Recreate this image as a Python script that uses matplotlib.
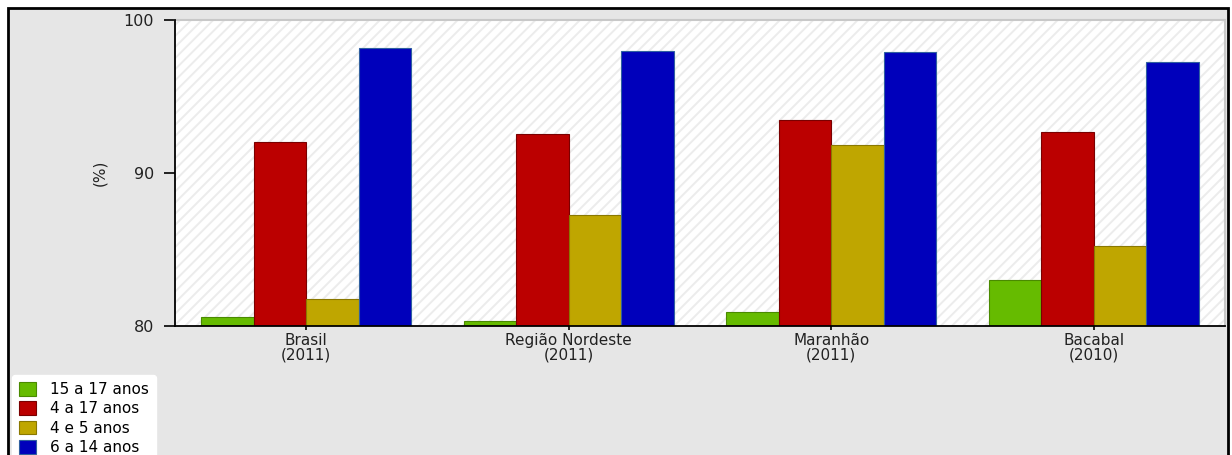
"""
    Bar chart of school attendance rates by age group
    for Brasil, Região Nordeste, Maranhão and Bacabal.
"""

import numpy as np
import matplotlib.pyplot as plt
import matplotlib.patches as patches

# Data.
places = ['Brasil\n(2011)', 'Região Nordeste\n(2011)', 'Maranhão\n(2011)', 'Bacabal\n(2010)']
series = ['15 a 17 anos', '4 a 17 anos', '4 e 5 anos', '6 a 14 anos']
rate_15_17 = [80.6, 80.35, 80.9, 83.0]
rate_4_17 = [92.0, 92.55, 93.45, 92.65]
rate_4_5 = [81.75, 87.25, 91.85, 85.25]
rate_6_14 = [98.2, 98.0, 97.9, 97.25]
colors = ['#66bb00', '#bb0000', '#bfa600', '#0000bb']
edges = ['#4a8a00', '#7a0000', '#8a7800', '#3060a0']

fig = plt.figure(figsize=(12.32, 4.55), dpi=100)
fig.patch.set_facecolor('white')

# Gray panel with black frame behind everything.
W, H = 1232, 455
panel = patches.Rectangle((8 / W, -0.05), 1220 / W, 1.05 - 8 / H,
                          transform=fig.transFigure, facecolor='#e6e6e6',
                          edgecolor='black', linewidth=2, zorder=-10)
fig.patches.append(panel)

ax = fig.add_axes([175 / W, 129 / H, 1050 / W, 306 / H])
ax.set_facecolor('white')

# Light diagonal hatching in the plot area.
plt.rcParams['hatch.color'] = '#ececec'
plt.rcParams['hatch.linewidth'] = 1.4
hatch_bg = patches.Rectangle((0, 0), 1, 1, transform=ax.transAxes,
                             facecolor='white', edgecolor='#ececec',
                             hatch='///', linewidth=0, zorder=0)
ax.add_patch(hatch_bg)

x = np.arange(len(places)) + 0.5
width = 0.2
all_values = [rate_15_17, rate_4_17, rate_4_5, rate_6_14]
for i, (vals, name) in enumerate(zip(all_values, series)):
    ax.bar(x + (i - 1.5) * width, np.array(vals) - 80, bottom=80, width=width,
           color=colors[i], edgecolor=edges[i], linewidth=0.8, label=name,
           zorder=3)

ax.set_xlim(0, 4)
ax.set_ylim(80, 100)
ax.set_yticks([80, 90, 100])
ax.set_xticks(x)
ax.set_xticklabels(places, fontsize=11, color='#222222', linespacing=1.0)
ax.tick_params(axis='y', labelsize=11.5, length=8, width=1.2, pad=7,
               labelcolor='#222222')
ax.tick_params(axis='x', length=6, width=1.2, direction='inout', pad=2)
ax.set_ylabel('(%)', fontsize=11, color='#222222', labelpad=12)

for side in ['left', 'bottom']:
    ax.spines[side].set_color('black')
    ax.spines[side].set_linewidth(1.3)
    ax.spines[side].set_zorder(5)
for side in ['top', 'right']:
    ax.spines[side].set_color('#c8c8c8')
    ax.spines[side].set_linewidth(1.5)

leg = fig.legend(loc='upper left', bbox_to_anchor=(12 / W, 1 - 375 / H),
                 fontsize=11, frameon=True, fancybox=True, framealpha=1,
                 edgecolor='white', facecolor='white', handlelength=1.15,
                 handleheight=1.0, handletextpad=0.9, labelspacing=0.28,
                 borderpad=0.45, borderaxespad=0)

plt.savefig('out.png', dpi=100)
plt.close()
